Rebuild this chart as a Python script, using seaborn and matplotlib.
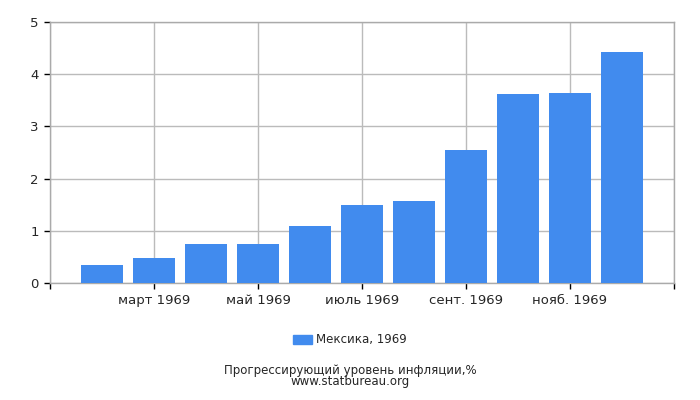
import matplotlib
matplotlib.use("Agg")
import matplotlib.pyplot as plt
import seaborn as sns
import pandas as pd
from matplotlib.patches import Patch

months = ["февр.", "март", "апр.", "май", "июнь", "июль", "авг.", "сент.", "окт.", "нояб.", "дек."]
values = [0.35, 0.47, 0.74, 0.74, 1.10, 1.49, 1.58, 2.54, 3.62, 3.64, 4.42]
tick_labels = ["", "март 1969", "май 1969", "июль 1969", "сент. 1969", "нояб. 1969", ""]
series_name = "Мексика, 1969"
yticks = [0, 1, 2, 3, 4, 5]

sns.set_style("white")
plt.rcParams['font.family'] = ['DejaVu Sans']

df = pd.DataFrame({"month": months, "value": values})

fig = plt.figure(figsize=(7, 4), dpi=100)
ax = fig.add_axes([50/700, 1-283/400, 624/700, 261/400])
color = "#418bee"
sns.barplot(data=df, x="month", y="value", order=months, color=color,
            width=0.8, saturation=1, linewidth=0, ax=ax, zorder=3)

ax.set_xlim(-1, 11)
ax.set_ylim(0, 5)
ax.set_xticks([-1, 1, 3, 5, 7, 9, 11])
ax.set_xticklabels(tick_labels, fontsize=9.5)
ax.set_yticks(yticks)
ax.set_yticklabels([str(v) for v in yticks], fontsize=9.5)
ax.set_xlabel("")
ax.set_ylabel("")
ax.grid(True, color="#bbbbbb", linewidth=1, zorder=0)
ax.set_axisbelow(True)
for s in ax.spines.values():
    s.set_color("#aaaaaa")
    s.set_linewidth(1)
ax.tick_params(axis="both", which="both", length=4, width=1, color="#000000",
               direction="out", bottom=True, left=True, pad=4)

fig.legend(handles=[Patch(facecolor=color, edgecolor=color, label=series_name)],
           loc="center", bbox_to_anchor=(350/700, 1-340/400), frameon=False,
           fontsize=8.5, handlelength=1.6, handleheight=0.7, handletextpad=0.4)
fig.text(0.5, 1-376/400, "Прогрессирующий уровень инфляции,%\nwww.statbureau.org",
         ha="center", va="center", fontsize=8.5, linespacing=0.85)

fig.savefig("out.png", dpi=100)
